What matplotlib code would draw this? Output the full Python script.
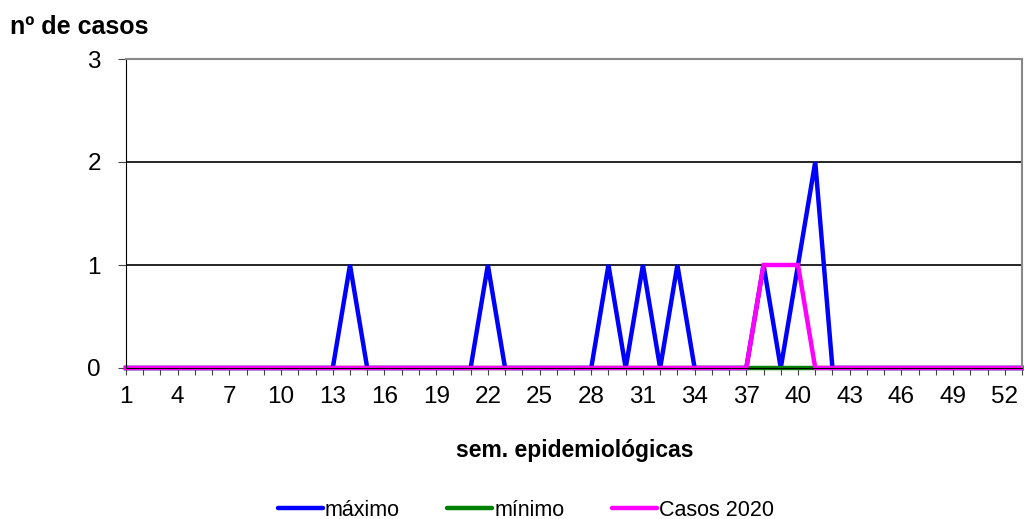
import matplotlib
matplotlib.use("Agg")
import matplotlib.pyplot as plt

plt.rcParams['font.family'] = ['Liberation Sans', 'DejaVu Sans']

weeks = list(range(1, 54))
maximo = [0]*53
for w, v in [(14, 1), (22, 1), (29, 1), (31, 1), (33, 1), (38, 1), (40, 1), (41, 2)]:
    maximo[w-1] = v
minimo = [0]*53
casos_2020 = [0]*53
for w in (38, 39, 40):
    casos_2020[w-1] = 1

tick_labels = [str(w) if (w - 1) % 3 == 0 else '' for w in weeks]

fig = plt.figure(figsize=(10.24, 5.19), dpi=100)
ax = fig.add_axes([126/1024, 1-368/519, (1022-126)/1024, (368-59)/519])

ax.plot(weeks, maximo, color='#0000FF', lw=3.2, label='máximo', clip_on=False, solid_joinstyle='miter')
ax.plot(weeks, minimo, color='#008000', lw=3.2, label='mínimo', clip_on=False)
ax.plot(weeks, casos_2020, color='#FF00FF', lw=3.2, label='Casos 2020', clip_on=False, solid_joinstyle='miter')

ax.set_xlim(1, 53)
ax.set_ylim(0, 3)
ax.set_yticks([0, 1, 2, 3])
ax.set_xticks(weeks)
ax.set_xticklabels(tick_labels)
for y in (1, 2):
    ax.axhline(y, color='black', lw=1.2, zorder=0)

ax.spines['top'].set_color('#888888')
ax.spines['right'].set_color('#888888')
ax.spines['top'].set_linewidth(1.5)
ax.spines['right'].set_linewidth(1.5)
ax.spines['left'].set_color('black')
ax.spines['bottom'].set_color('black')

ax.tick_params(axis='x', direction='out', length=5, width=0.8, color='#444444', labelsize=17.5, pad=8)
ax.tick_params(axis='y', direction='out', length=6, width=0.8, color='#444444', labelsize=17.5, pad=12)

fig.text(10/1024, 1-27/519, 'nº de casos', fontsize=18, fontweight='bold', ha='left', va='center')
fig.text(575/1024, 1-450/519, 'sem. epidemiológicas', fontsize=16.5, fontweight='bold', ha='center', va='center')

leg = fig.legend(loc='center', bbox_to_anchor=(526/1024, 1-510/519), ncol=3, frameon=False,
                 fontsize=15.5, handlelength=2.1, handletextpad=0.1, columnspacing=2.2)
for h in leg.legend_handles:
    h.set_solid_capstyle('round')

fig.savefig('out.png', dpi=100)
